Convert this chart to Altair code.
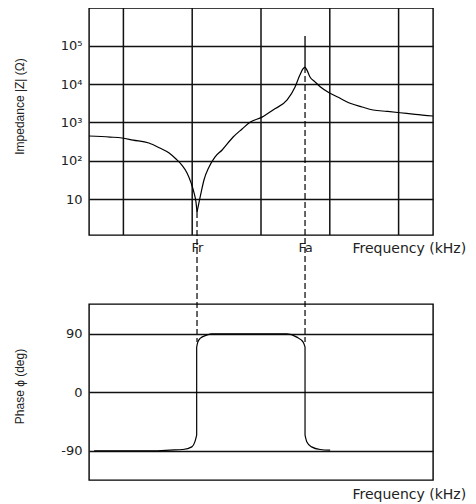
import altair as alt
import pandas as pd

# ---- data (frequency in arbitrary units 0-100) ----
# impedance |Z| (ohm), three smooth branches + the narrow spike at Fa
imp_a_freq = [0, 6.1, 9.6, 12.8, 17.4, 20.6, 23.3, 25.3, 27.0, 28.5, 29.7, 30.5, 31.1, 31.4]
imp_a_z = [444, 417, 394, 347, 291, 215, 160, 111, 77, 48, 26, 15, 8.3, 4.6]
imp_b_freq = [31.4, 32.0, 32.6, 33.4, 34.9, 36.6, 38.7, 41.9, 44.5, 46.8, 50.3, 53.5, 57.6,
              59.9, 61.3, 62.2, 62.8]
imp_b_z = [4.6, 8.3, 15, 31, 69, 125, 191, 417, 676, 1020, 1380, 2130, 3890,
           8500, 17400, 25000, 28000]
imp_c_freq = [62.8, 63.4, 64.2, 65.7, 67.2, 70.1, 73.0, 75.9, 79.4, 82.6, 86.6, 90.4, 94.8, 100]
imp_c_z = [28000, 23000, 15700, 11500, 8630, 5800, 4280, 3180, 2540, 2120, 1950, 1800, 1630, 1480]
spike_freq = [62.8]
spike_low = [28000]
spike_high = [182000]

# phase (deg): three smooth branches joined by two vertical jumps
ph_a_freq = [1.5, 10, 20, 23.5, 27.3, 29.9, 30.8, 31.3]
ph_a_deg = [-90, -90, -90, -89, -88, -84, -76, -66]
ph_b_freq = [31.3, 31.6, 32.3, 34.2, 35.7, 45, 57.5, 60.4, 62.3, 62.8]
ph_b_deg = [70, 77, 83, 88, 90, 90, 90, 85, 77, 70]
ph_c_freq = [62.8, 63.3, 64.7, 67.2, 70.1]
ph_c_deg = [-66, -76, -84, -88, -89]
jump_freq = [31.3, 62.8]
jump_from = [-66, 70]
jump_to = [70, -66]

grid_freq = [10, 30, 50, 70, 90]
marker_freq = [31.4, 62.8]
marker_labels = ["Fr", "Fa"]
marker_z = [4.6, 28000]

z_ticks = [10, 100, 1000, 10000, 100000]
z_tick_labels = ["10", "10²", "10³", "10⁴", "10⁵"]
ph_ticks = [-90, 0, 90]
ph_tick_labels = ["-90", "0", "90"]


def segs(parts, ycol):
    rows = []
    for s, (fs, ys) in enumerate(parts):
        for f, y in zip(fs, ys):
            rows.append({"f": f, ycol: y, "seg": s})
    return pd.DataFrame(rows)


imp_df = segs([(imp_a_freq, imp_a_z), (imp_b_freq, imp_b_z), (imp_c_freq, imp_c_z)], "z")
ph_df = segs([(ph_a_freq, ph_a_deg), (ph_b_freq, ph_b_deg), (ph_c_freq, ph_c_deg)], "p")
spike_df = pd.DataFrame({"f": spike_freq, "lo": spike_low, "hi": spike_high})
jump_df = pd.DataFrame({"f": jump_freq, "a": jump_from, "b": jump_to})
grid_df = pd.DataFrame({"f": grid_freq})
mark_df = pd.DataFrame({"f": marker_freq, "z": marker_z, "lab": marker_labels})


def expr_from(values, labels):
    e = "''"
    for v, l in zip(values, labels):
        e = f"abs(datum.value - ({v})) < 1e-6 * {abs(v) + 1} ? '{l}' : ({e})"
    return e


W = 344
xscale = alt.Scale(domain=[0, 100], nice=False)
ink = "#111111"

top_x_axis = alt.Axis(values=marker_freq, labelExpr=expr_from(marker_freq, marker_labels),
                      labelFont="DejaVu Sans", labelFontSize=13, labelPadding=6,
                      grid=False, ticks=False, domain=False,
                      title="Frequency (kHz)", titleFont="DejaVu Sans", titleFontSize=14,
                      titleFontWeight="normal", titleAlign="left", titleBaseline="alphabetic",
                      titleX=263, titleY=17, labelAngle=0)

top_y_axis = alt.Axis(values=z_ticks, labelExpr=expr_from(z_ticks, z_tick_labels),
                      grid=True, ticks=False, domain=False, labelPadding=7,
                      title="Impedance |Z| (Ω)", titleX=-70, titleY=98, titleAngle=-90,
                      titleAlign="center", titleBaseline="middle")

yscale_top = alt.Scale(type="log", domain=[1.15, 9.8e5], nice=False)

vgrid = alt.Chart(grid_df).mark_rule(color=ink, strokeWidth=1.5).encode(
    x=alt.X("f:Q", scale=xscale, axis=top_x_axis))

imp_line = alt.Chart(imp_df).mark_line(color="black", strokeWidth=1.2,
                                       interpolate="monotone").encode(
    x=alt.X("f:Q", scale=xscale),
    y=alt.Y("z:Q", scale=yscale_top, axis=top_y_axis),
    detail="seg:N")

spike = alt.Chart(spike_df).mark_rule(color="black", strokeWidth=1.3).encode(
    x=alt.X("f:Q", scale=xscale),
    y=alt.Y("lo:Q", scale=yscale_top),
    y2="hi:Q")

dashes = alt.Chart(mark_df).mark_rule(color="black", strokeWidth=1.2, strokeDash=[6, 3]).encode(
    x=alt.X("f:Q", scale=xscale),
    y=alt.Y("z:Q", scale=yscale_top),
    y2=alt.value(334))

top = alt.layer(vgrid, imp_line, spike, dashes).properties(width=W, height=227)

bot_x_axis = alt.Axis(labels=False, grid=False, ticks=False, domain=False,
                      title="Frequency (kHz)", titleFont="DejaVu Sans", titleFontSize=14,
                      titleFontWeight="normal", titleAlign="left", titleBaseline="alphabetic",
                      titleX=263, titleY=18)
bot_y_axis = alt.Axis(values=ph_ticks, labelExpr=expr_from(ph_ticks, ph_tick_labels),
                      grid=True, ticks=False, domain=False, labelPadding=7,
                      title="Phase ϕ (deg)", titleX=-70, titleY=82, titleAngle=-90,
                      titleAlign="center", titleBaseline="middle")
pscale = alt.Scale(domain=[-135, 136], nice=False)

ph_line = alt.Chart(ph_df).mark_line(color="black", strokeWidth=1.2,
                                     interpolate="monotone").encode(
    x=alt.X("f:Q", scale=xscale, axis=bot_x_axis),
    y=alt.Y("p:Q", scale=pscale, axis=bot_y_axis),
    detail="seg:N")

ph_jump = alt.Chart(jump_df).mark_rule(color="black", strokeWidth=1.2).encode(
    x=alt.X("f:Q", scale=xscale),
    y=alt.Y("a:Q", scale=pscale),
    y2="b:Q")

bottom = alt.layer(ph_line, ph_jump).properties(width=W, height=176)

chart = alt.vconcat(top, bottom, spacing=69, bounds="flush").properties(
    padding={"left": 4, "top": -2, "right": 0, "bottom": 0},
    background="white"
).configure_view(
    stroke="black", strokeWidth=1.4
).configure_axis(
    labelFont="DejaVu Sans", labelFontSize=13, labelColor="#222222",
    titleFont="Liberation Sans", titleFontSize=12, titleFontWeight="normal", titleColor="#222222",
    gridColor=ink, gridOpacity=1, gridWidth=1.5
)

chart.save("out.html", embed_options={"renderer": "svg", "actions": False})
